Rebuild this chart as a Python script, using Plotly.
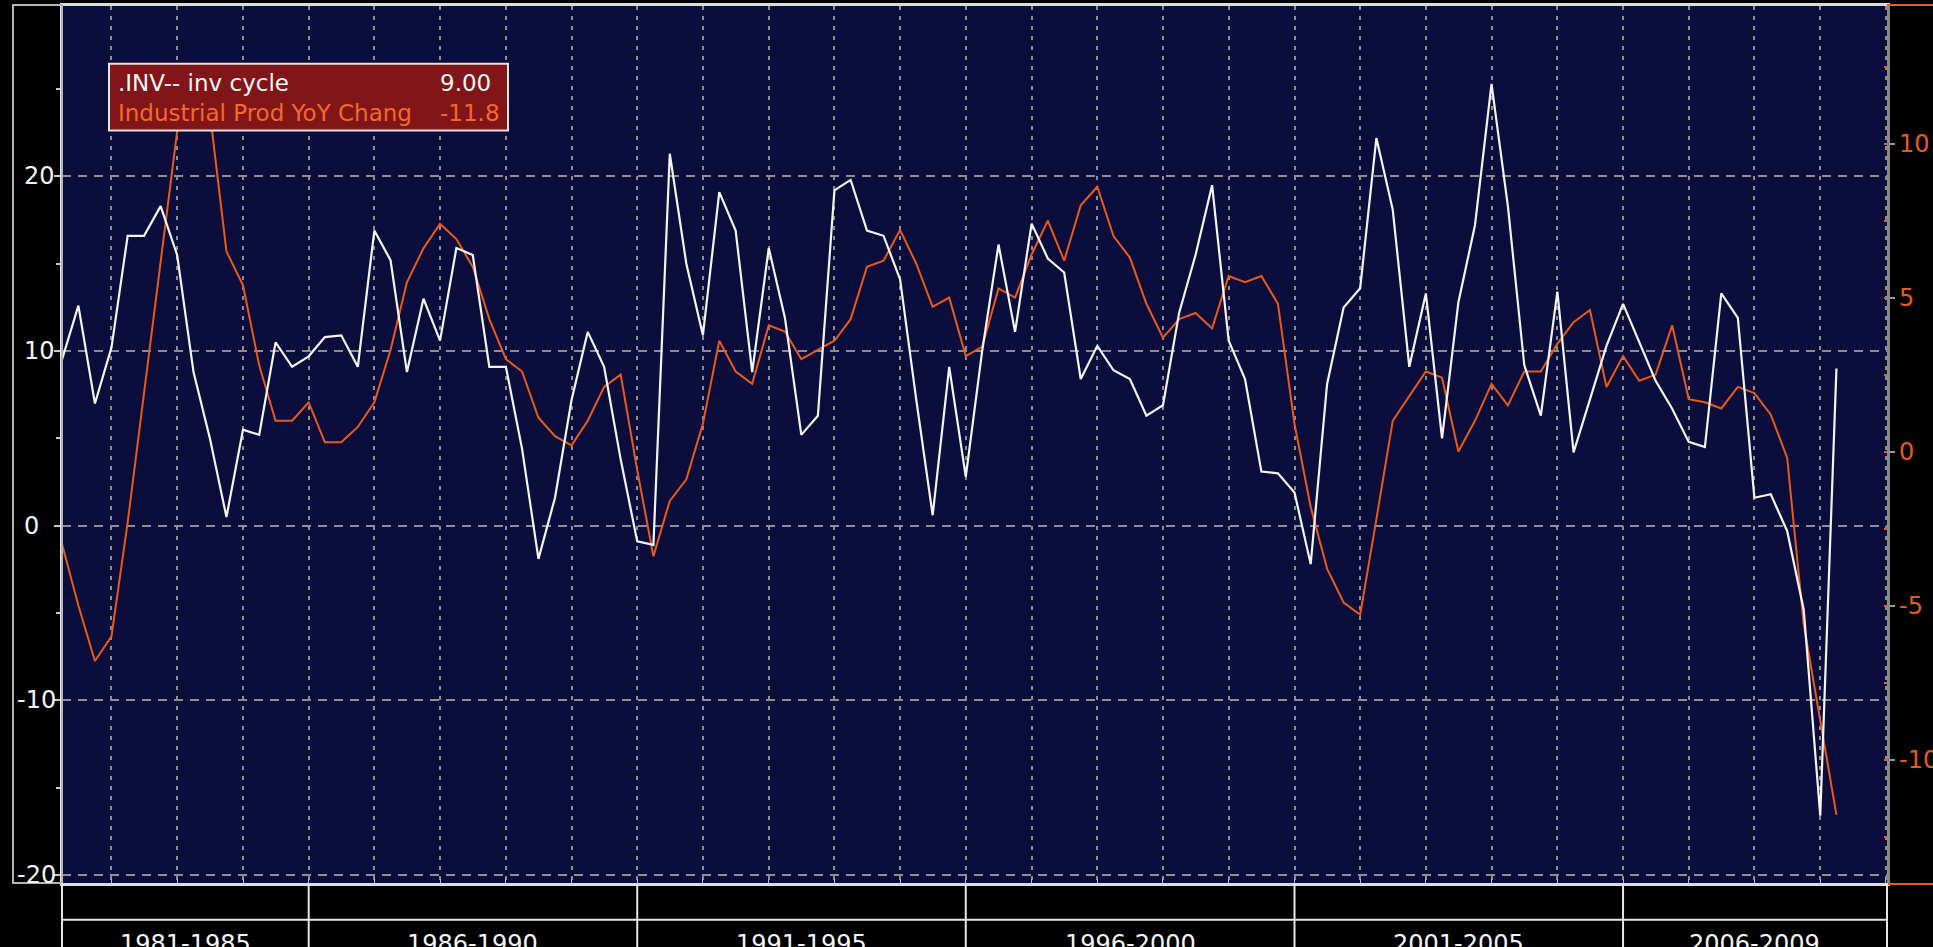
import plotly.graph_objects as go
import pandas as pd

# ---------------- data ----------------
quarters = pd.date_range("1982-04-01", periods=109, freq="QS").strftime("%Y-%m-%d").tolist()

inv_cycle = [
    9.5, 12.6, 7.0, 10.2, 16.6, 16.6, 18.3, 15.5, 8.8, 5.0,
    0.5, 5.5, 5.2, 10.5, 9.1, 9.7, 10.8, 10.9, 9.1, 16.9,
    15.2, 8.8, 13.0, 10.6, 15.9, 15.5, 9.1, 9.1, 4.4, -1.9,
    1.6, 7.2, 11.1, 9.1, 3.8, -0.9, -1.1, 21.3, 15.0, 10.9,
    19.1, 16.9, 8.8, 15.9, 11.9, 5.2, 6.3, 19.2, 19.8, 16.9,
    16.6, 14.1, 7.2, 0.6, 9.1, 2.8, 10.0, 16.1, 11.1, 17.3,
    15.3, 14.5, 8.4, 10.3, 8.9, 8.4, 6.3, 6.9, 12.2, 15.5,
    19.5, 10.6, 8.4, 3.1, 3.0, 1.9, -2.2, 8.1, 12.5, 13.6,
    22.2, 18.1, 9.1, 13.3, 5.0, 12.8, 17.2, 25.3, 18.3, 9.2,
    6.3, 13.4, 4.2, 7.2, 10.3, 12.7, 10.5, 8.3, 6.7, 4.8,
    4.5, 13.3, 11.9, 1.6, 1.8, -0.3, -4.8, -16.6, 9.0,
]

ind_prod_yoy = [
    -3.0, -5.0, -6.8, -6.0, -2.3, 1.9, 6.2, 10.4, 12.5, 11.0,
    6.5, 5.4, 2.8, 1.0, 1.0, 1.6, 0.3, 0.3, 0.8, 1.6,
    3.3, 5.5, 6.6, 7.4, 6.9, 6.0, 4.3, 3.0, 2.6, 1.1,
    0.5, 0.2, 1.0, 2.1, 2.5, -0.6, -3.4, -1.6, -0.9, 0.9,
    3.6, 2.6, 2.2, 4.1, 3.9, 3.0, 3.3, 3.6, 4.3, 6.0,
    6.2, 7.2, 6.1, 4.7, 5.0, 3.1, 3.4, 5.3, 5.0, 6.4,
    7.5, 6.2, 8.0, 8.6, 7.0, 6.3, 4.8, 3.7, 4.3, 4.5,
    4.0, 5.7, 5.5, 5.7, 4.8, 0.9, -1.8, -3.8, -4.9, -5.3,
    -2.2, 1.0, 1.8, 2.6, 2.4, 0.0, 1.0, 2.2, 1.5, 2.6,
    2.6, 3.5, 4.2, 4.6, 2.1, 3.1, 2.3, 2.5, 4.1, 1.7,
    1.6, 1.4, 2.1, 1.9, 1.2, -0.2, -5.6, -8.7, -11.8,
]

series_names = [".INV-- inv cycle", "Industrial Prod YoY Chang"]
left_ticks = [20, 10, 0, -10, -20]
right_ticks = [10, 5, 0, -5, -10]
period_labels = ["1981-1985", "1986-1990", "1991-1995", "1996-2000", "2001-2005", "2006-2009"]
period_starts = ["1981-01-01", "1986-01-01", "1991-01-01", "1996-01-01", "2001-01-01", "2006-01-01"]
period_ends = ["1986-01-01", "1991-01-01", "1996-01-01", "2001-01-01", "2006-01-01", "2010-01-01"]

# ---------------- style / layout constants ----------------
X_RANGE = ["1982-04-01", "2010-01-07"]
LEFT_RANGE = [-20.46, 29.76]
RIGHT_RANGE = [-14.01, 14.47]

W, H = 1933, 947
ML, MR, MT, MB = 62, 46, 3, 64
PW, PH = W - ML - MR, H - MT - MB

NAVY = "#0b0e3c"
WHITE = "#f4f4f4"
ORANGE = "#e85a1c"
ORANGE_TXT = "#f26a2a"
GRID = "#8e8e8e"
FONT = "DejaVu Sans"


def px_x(px):
    return (px - ML) / PW


def px_y(py):
    return (H - MB - py) / PH


fig = go.Figure()

fig.add_trace(go.Scatter(
    x=quarters, y=ind_prod_yoy, name=series_names[1], mode="lines",
    line=dict(color=ORANGE, width=2), yaxis="y",
))
fig.add_trace(go.Scatter(
    x=quarters, y=inv_cycle, name=series_names[0], mode="lines",
    line=dict(color=WHITE, width=2.2), yaxis="y2",
))

fig.update_layout(
    width=W, height=H,
    margin=dict(l=ML, r=MR, t=MT, b=MB, pad=0),
    paper_bgcolor="black", plot_bgcolor=NAVY,
    showlegend=False,
    font=dict(family=FONT, color=WHITE, size=24),
    xaxis=dict(
        type="date", range=X_RANGE,
        showgrid=True, dtick="M12", tick0="1983-01-01",
        gridcolor=GRID, griddash="4px,6px", gridwidth=1.8,
        showticklabels=False, ticks="inside", ticklen=4, tickcolor="#bbbbbb",
        showline=True, linecolor="#dcdcdc", linewidth=3, mirror=True,
        zeroline=False,
    ),
    yaxis=dict(
        side="right", range=RIGHT_RANGE,
        showgrid=False, zeroline=False,
        dtick=5, tick0=0, showticklabels=False,
        ticks="outside", ticklen=5, tickcolor="#9a9a9a", tickwidth=2,
        minor=dict(dtick=2.5, tick0=0, ticks="inside", ticklen=3, tickcolor=ORANGE, showgrid=False),
        showline=True, linecolor="#8a8a8a", linewidth=3,
    ),
    yaxis2=dict(
        side="left", overlaying="y", range=LEFT_RANGE,
        showgrid=True, gridcolor=GRID, griddash="9px,7px", gridwidth=1.5,
        zeroline=False, dtick=10, tick0=0, showticklabels=False,
        ticks="outside", ticklen=6, tickcolor="#c8c8c8", tickwidth=1.5,
        minor=dict(dtick=5, tick0=0, ticks="outside", ticklen=4, tickcolor="#c8c8c8", showgrid=False),
        showline=True, linecolor="#e6e6e6", linewidth=2,
    ),
)

annotations = []
# left axis labels (left aligned, Bloomberg style)
for v in left_ticks:
    annotations.append(dict(
        x=0, xref="paper", xanchor="left", xshift=(22 - ML) if v >= 0 else (15 - ML),
        y=v, yref="y2", yanchor="middle", text=str(v), showarrow=False,
        font=dict(family=FONT, size=24, color=WHITE),
    ))
# right axis labels
for v in right_ticks:
    annotations.append(dict(
        x=1, xref="paper", xanchor="left", xshift=10,
        y=v, yref="y", yanchor="middle", text=str(v), showarrow=False,
        font=dict(family=FONT, size=24, color=ORANGE),
    ))
# period labels below the axis
x0_ts, x1_ts = pd.Timestamp(X_RANGE[0]), pd.Timestamp(X_RANGE[1])
for lab, s, e in zip(period_labels, period_starts, period_ends):
    a = max(pd.Timestamp(s), x0_ts)
    b = min(pd.Timestamp(e), x1_ts)
    mid = a + (b - a) / 2
    annotations.append(dict(
        x=mid.strftime("%Y-%m-%d %H:%M"), xref="x", xanchor="center",
        y=0, yref="paper", yanchor="middle", yshift=-61,
        text=lab, showarrow=False,
        font=dict(family=FONT, size=24, color=WHITE),
    ))
# legend box texts
legend_rows = [
    (series_names[0], f"{inv_cycle[-1]:.2f}", WHITE, 80),
    (series_names[1], f"{ind_prod_yoy[-1]:.1f}", ORANGE_TXT, 110),
]
for name, val, col, cy in legend_rows:
    annotations.append(dict(
        x=0, xref="paper", xanchor="left", xshift=116 - ML,
        y=1, yref="paper", yanchor="middle", yshift=-(cy - MT),
        text=name, showarrow=False, font=dict(family=FONT, size=23, color=col),
    ))
    annotations.append(dict(
        x=0, xref="paper", xanchor="left", xshift=438 - ML,
        y=1, yref="paper", yanchor="middle", yshift=-(cy - MT),
        text=val, showarrow=False, font=dict(family=FONT, size=23, color=col),
    ))

shapes = []
# left frame around the axis label column
shapes.append(dict(type="rect", xref="paper", yref="paper",
                   x0=px_x(13), x1=0, y0=0, y1=px_y(2),
                   line=dict(color="#b4b4b4", width=2), fillcolor="rgba(0,0,0,0)"))
# orange lines right of the right axis
for yy in (px_y(2), px_y(884)):
    shapes.append(dict(type="line", xref="paper", yref="paper",
                       x0=1, x1=px_x(W + 5), y0=yy, y1=yy,
                       line=dict(color=ORANGE, width=2)))
# bottom band line
shapes.append(dict(type="line", xref="paper", yref="paper",
                   x0=0, x1=1, y0=px_y(920), y1=px_y(920),
                   line=dict(color="#e6e6e6", width=2)))
# period separators
for s in period_starts[1:]:
    shapes.append(dict(type="line", xref="x", yref="paper",
                       x0=s, x1=s, y0=0, y1=px_y(H + 5),
                       line=dict(color="#e6e6e6", width=2)))
for xx in (0, 1):
    shapes.append(dict(type="line", xref="paper", yref="paper",
                       x0=xx, x1=xx, y0=0, y1=px_y(H + 5),
                       line=dict(color="#e6e6e6", width=2)))
# legend box
shapes.append(dict(type="rect", xref="paper", yref="paper", layer="above",
                   x0=px_x(109), x1=px_x(508), y0=px_y(128), y1=px_y(61),
                   line=dict(color="#e4e4e4", width=2), fillcolor="#821518"))

fig.update_layout(annotations=annotations, shapes=shapes)

fig.write_html(
    "out.html",
    config={"displayModeBar": False},
    post_script="document.body.style.margin='0';document.body.style.overflow='hidden';",
)
